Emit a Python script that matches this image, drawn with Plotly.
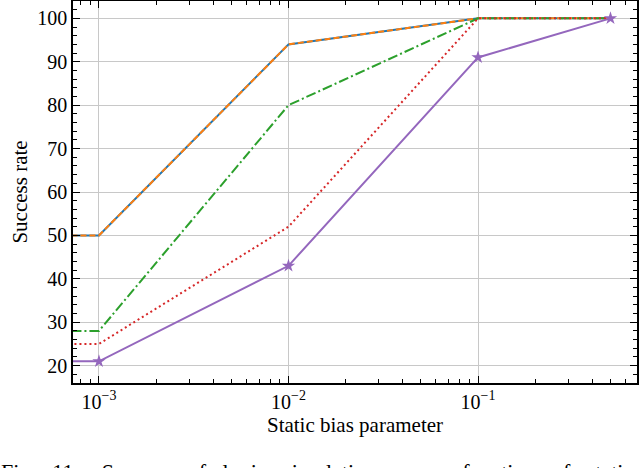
import numpy as np
import plotly.graph_objects as go

bias = [1e-4, 1e-3, 1e-2, 1e-1, 0.5]
series_blue = [50, 50, 94, 100, 100]
series_orange = [50, 50, 94, 100, 100]
series_green = [28, 28, 80, 100, 100]
series_red = [25, 25, 52, 100, 100]
series_purple = [21, 21, 43, 91, 100]

x_tick_vals = [1e-3, 1e-2, 1e-1]
x_tick_text = ["10<sup>\u22123</sup>", "10<sup>\u22122</sup>", "10<sup>\u22121</sup>"]
y_tick_vals = [20, 30, 40, 50, 60, 70, 80, 90, 100]

FONT = "Liberation Serif, DejaVu Serif, serif"

fig = go.Figure()
fig.add_trace(go.Scatter(x=bias, y=series_blue, mode="lines",
                         line=dict(color="#1f77b4", width=2, dash="solid"), showlegend=False))
fig.add_trace(go.Scatter(x=bias, y=series_orange, mode="lines",
                         line=dict(color="#ff7f0e", width=2, dash="6px,3px"), showlegend=False))
fig.add_trace(go.Scatter(x=bias, y=series_green, mode="lines",
                         line=dict(color="#2ca02c", width=2, dash="10px,3px,2px,3px"), showlegend=False))
fig.add_trace(go.Scatter(x=bias, y=series_red, mode="lines",
                         line=dict(color="#d62728", width=2, dash="2px,3px"), showlegend=False))
fig.add_trace(go.Scatter(x=bias, y=series_purple, mode="lines+markers",
                         line=dict(color="#9467bd", width=2),
                         marker=dict(symbol="star", size=10, color="#9467bd"), showlegend=False))

minor_x = []
for d in [1e-4, 1e-3, 1e-2, 1e-1]:
    for m in range(2, 10):
        minor_x.append(m * d)

fig.update_xaxes(type="log", range=[-3.137, np.log10(0.69)], automargin=False,
                 tickmode="array", tickvals=x_tick_vals, ticktext=x_tick_text,
                 ticks="inside", ticklen=7, tickwidth=1.2, tickcolor="black",
                 showline=True, linecolor="black", linewidth=1.5, mirror="ticks",
                 showgrid=True, gridcolor="#c8c8c8", gridwidth=1,
                 minor=dict(tickmode="array", tickvals=minor_x, ticks="inside", ticklen=4,
                            tickcolor="black", showgrid=False),
                 title=dict(text="Static bias parameter", font=dict(size=21, family=FONT, color="black"), standoff=2),
                 tickfont=dict(size=20, family=FONT, color="black"), zeroline=False)
fig.update_yaxes(range=[16, 104], tickmode="array", tickvals=y_tick_vals, automargin=False,
                 ticks="inside", ticklen=7, tickwidth=1.2, tickcolor="black",
                 showline=True, linecolor="black", linewidth=1.5, mirror="ticks",
                 showgrid=True, gridcolor="#c8c8c8", gridwidth=1,
                 minor=dict(dtick=2, ticks="inside", ticklen=4, tickcolor="black", showgrid=False),
                 title=dict(text="Success rate", font=dict(size=21, family=FONT, color="black"), standoff=4),
                 tickfont=dict(size=20, family=FONT, color="black"), zeroline=False)

words = ["Fig.", "11:", "\u00a0Success", "of", "logic", "simulations", "as", "a", "function", "of", "static"]
caption = "\u00a0\u00a0\u00a0".join(words)
fig.add_annotation(text=caption,
                   xref="paper", yref="paper", x=-0.131, y=-0.195, xanchor="left", yanchor="top",
                   showarrow=False, font=dict(size=22, family=FONT, color="black"))

fig.update_layout(width=640, height=468, margin=dict(l=73, r=3, t=1, b=85),
                  plot_bgcolor="white", paper_bgcolor="white",
                  font=dict(family=FONT, color="black"))

fig.write_html("out.html", config={"displayModeBar": False},
               post_script="document.body.style.margin='0';document.body.style.overflow='hidden';")
